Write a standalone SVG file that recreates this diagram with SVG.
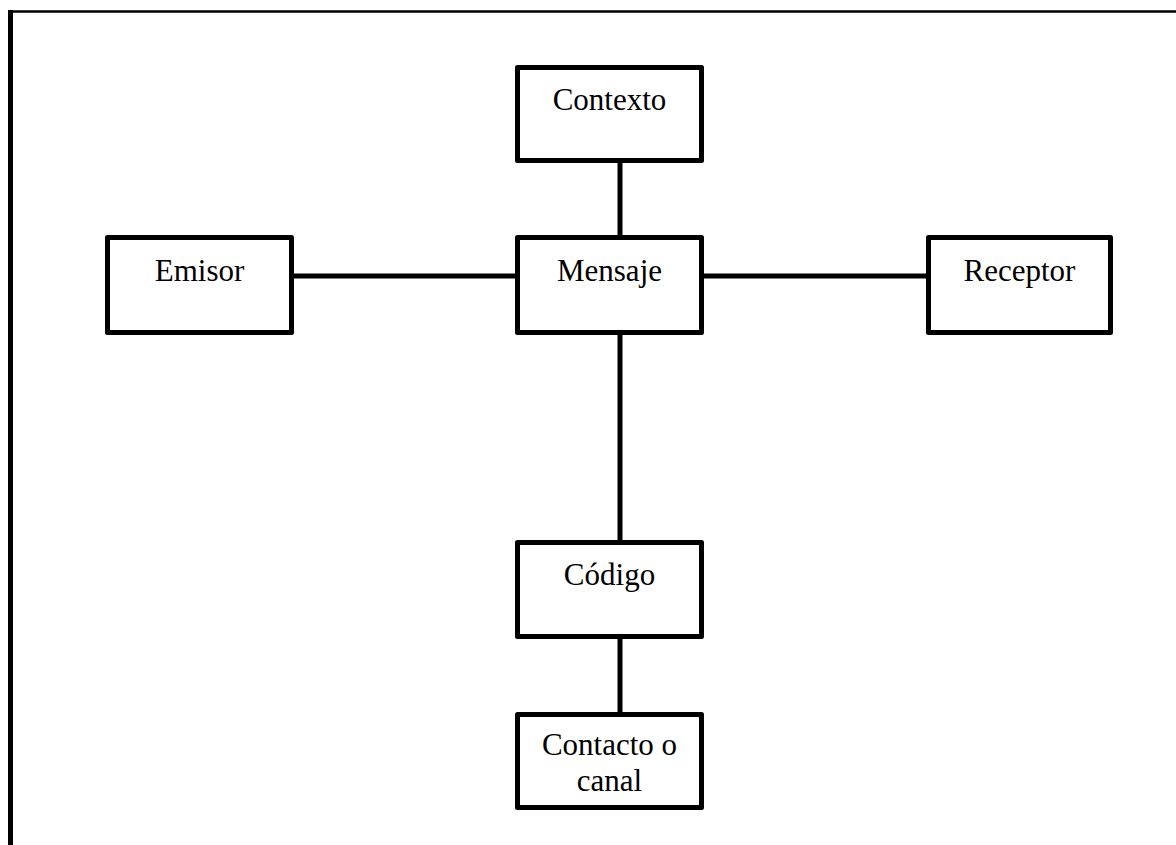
<svg xmlns="http://www.w3.org/2000/svg" width="1176" height="845" viewBox="0 0 1176 845">
  <style>
    .box { fill: #ffffff; stroke: #000000; stroke-width: 5; stroke-linejoin: round; }
    .lbl { font-family: "Liberation Serif", "Times New Roman", serif; font-size: 31px; fill: #000000; text-anchor: middle; }
    .conn { stroke: #000000; stroke-width: 5; fill: none; }
    .shadow { stroke: #b0b0b0; stroke-width: 6; fill: none; opacity: 0.6; filter: url(#blur); }
  </style>
  <defs>
    <filter id="blur" x="-20%" y="-20%" width="140%" height="140%">
      <feGaussianBlur stdDeviation="2"/>
    </filter>
  </defs>
  <rect x="0" y="0" width="1176" height="845" fill="#ffffff"/>
  <g id="frame">
    <line x1="13" y1="11.5" x2="1176" y2="11.5" stroke="#c8c8c8" stroke-width="6" filter="url(#blur)" opacity="0.6"/>
    <line x1="8" y1="11.5" x2="1176" y2="11.5" stroke="#000000" stroke-width="2.5"/>
    <line x1="10.5" y1="10" x2="10.5" y2="845" stroke="#000000" stroke-width="5"/>
  </g>
  <g id="connectors">
    <line class="shadow" x1="621" y1="163" x2="621" y2="238"/>
    <line class="shadow" x1="294" y1="278" x2="515" y2="278"/>
    <line class="shadow" x1="704" y1="278" x2="926" y2="278"/>
    <line class="shadow" x1="621" y1="335" x2="621" y2="543"/>
    <line class="shadow" x1="621" y1="639" x2="621" y2="715"/>
    <line class="conn" x1="620" y1="162" x2="620" y2="236"/>
    <line class="conn" x1="293" y1="276" x2="516" y2="276"/>
    <line class="conn" x1="703" y1="276" x2="927" y2="276"/>
    <line class="conn" x1="620" y1="334" x2="620" y2="541"/>
    <line class="conn" x1="620" y1="638" x2="620" y2="713"/>
  </g>
  <g id="contexto">
    <rect class="box" x="517.5" y="67.5" width="184" height="93"/>
    <text class="lbl" x="609.5" y="110">Contexto</text>
  </g>
  <g id="emisor">
    <rect class="box" x="107.5" y="237.5" width="184" height="95"/>
    <text class="lbl" x="199.5" y="281">Emisor</text>
  </g>
  <g id="mensaje">
    <rect class="box" x="517.5" y="237.5" width="184" height="95"/>
    <text class="lbl" x="609.5" y="281">Mensaje</text>
  </g>
  <g id="receptor">
    <rect class="box" x="928.5" y="237.5" width="182" height="95"/>
    <text class="lbl" x="1019.5" y="281">Receptor</text>
  </g>
  <g id="codigo">
    <rect class="box" x="517.5" y="542.5" width="184" height="94"/>
    <text class="lbl" x="609.5" y="585">Código</text>
  </g>
  <g id="contacto">
    <rect class="box" x="517.5" y="714.5" width="184" height="93"/>
    <text class="lbl" x="609.5" y="755">Contacto o</text>
    <text class="lbl" x="609.5" y="791">canal</text>
  </g>
</svg>
